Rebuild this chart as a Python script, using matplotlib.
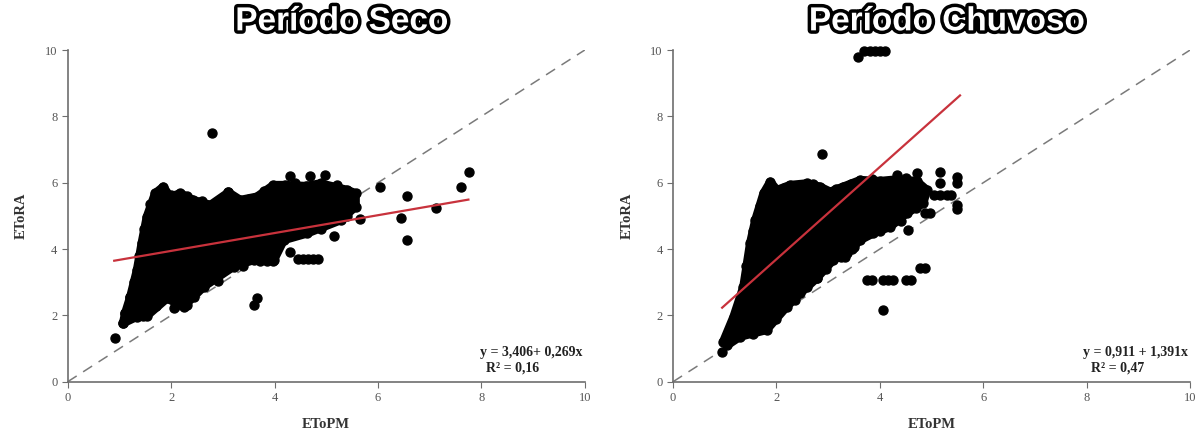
''' ETo comparison: EToRA vs EToPM for dry and rainy periods, with
    1:1 line and linear fit.
'''
import numpy as np
import matplotlib
matplotlib.use('Agg')
import matplotlib.pyplot as plt
import matplotlib.patheffects as pe

# ---- dry period (Período Seco) ----
# outline of the dense point cloud (EToPM, EToRA)
seco_cloud_x = [1.07, 1.11, 1.21, 1.34, 1.43, 1.53, 1.69, 1.85, 1.98, 2.18, 2.43,
                2.76, 3.11, 3.34, 3.66, 3.98, 4.21, 4.60, 4.89, 5.41, 5.57, 5.57,
                5.28, 4.63, 4.18, 3.99, 3.60, 3.21, 2.63, 2.24, 1.92, 1.53, 1.34]
seco_cloud_y = [1.76, 2.06, 2.56, 3.37, 4.17, 4.97, 5.68, 5.88, 5.58, 5.68, 5.48,
                5.33, 5.71, 5.48, 5.58, 5.93, 5.93, 5.90, 5.98, 5.78, 5.68, 5.28,
                4.87, 4.47, 4.27, 3.67, 3.67, 3.47, 2.86, 2.26, 2.51, 1.98, 1.96]
# scattered points outside / on the rim of the dense cloud
seco_pts_x = [0.92, 1.07, 1.11, 1.21, 2.79, 3.11, 3.66, 3.60, 7.76, 7.60, 7.12,
              6.56, 6.56, 6.44, 6.04, 5.65, 5.15, 4.45, 4.55, 4.65, 4.75, 4.85,
              4.29, 4.68, 4.97, 3.72, 3.85, 3.98, 2.30, 2.10, 1.45,
              2.00, 2.30, 2.60, 2.95, 3.50, 3.80, 4.40, 5.20, 1.28, 1.38, 1.48,
              1.60, 1.70, 2.05, 2.45, 2.90, 3.40, 4.30, 4.90, 5.40]
seco_pts_y = [1.31, 1.76, 2.06, 2.56, 7.50, 5.71, 2.51, 2.31, 6.33, 5.88, 5.25,
              5.60, 4.27, 4.93, 5.88, 4.90, 4.39, 3.69, 3.69, 3.69, 3.69, 3.69,
              6.20, 6.20, 6.23, 3.63, 3.63, 3.63, 2.30, 2.30, 1.98,
              5.62, 5.60, 5.45, 5.45, 5.50, 5.75, 6.00, 5.92, 3.00, 3.80, 4.60,
              5.35, 2.28, 2.22, 2.55, 3.05, 3.50, 3.92, 4.60, 5.00]
seco_a, seco_b = 3.406, 0.269
seco_fit_x = [0.9, 7.75]

# ---- rainy period (Período Chuvoso) ----
chuva_cloud_x = [0.97, 1.17, 1.36, 1.49, 1.59, 1.75, 1.88, 2.01, 2.26, 2.59, 2.84,
                 3.04, 3.29, 3.62, 4.00, 4.33, 4.71, 4.91, 4.84, 4.52, 4.20, 3.87,
                 3.62, 3.36, 3.10, 2.78, 2.46, 2.20, 1.81, 1.30, 1.05]
chuva_cloud_y = [1.21, 1.96, 2.86, 4.17, 4.87, 5.68, 6.03, 5.78, 5.93, 5.98, 5.88,
                 5.73, 5.88, 6.08, 6.05, 6.10, 6.05, 5.78, 5.38, 5.08, 4.67, 4.47,
                 4.27, 3.87, 3.67, 3.12, 2.66, 2.26, 1.56, 1.36, 1.10]
chuva_pts_x = [0.94, 2.88, 3.58, 3.70, 3.80, 3.90, 4.00, 4.10, 3.75, 3.85, 4.06,
               4.16, 4.26, 4.50, 4.60, 4.78, 4.88, 4.06, 5.16, 5.49, 5.49, 4.71,
               4.33, 5.16, 5.16, 5.29, 5.49, 5.49, 4.97, 4.87, 4.55, 3.62, 3.46,
               3.33, 2.78, 5.05, 5.38,
               2.15, 2.45, 2.70, 3.15, 3.45, 3.85, 4.50, 1.55, 2.00, 2.35, 2.60,
               2.95, 3.25, 3.50, 4.00, 4.40, 4.70, 1.42, 1.55, 1.68]
chuva_pts_y = [0.90, 6.86, 9.80, 9.98, 9.98, 9.98, 9.98, 9.98, 3.07, 3.07, 3.07,
               3.07, 3.07, 3.07, 3.07, 3.44, 3.44, 2.16, 6.33, 6.18, 6.00, 6.28,
               6.23, 5.98, 5.63, 5.63, 5.33, 5.20, 5.08, 5.08, 4.57, 4.29, 3.99,
               3.77, 3.12, 5.63, 5.63,
               5.85, 5.90, 5.95, 5.80, 5.95, 6.10, 6.15, 1.45, 1.90, 2.45, 2.85,
               3.40, 3.75, 4.05, 4.55, 4.85, 5.25, 3.50, 4.55, 5.30]
chuva_a, chuva_b = 0.911, 1.391
chuva_fit_x = [0.95, 5.55]

panels = [
    ('Período Seco', seco_cloud_x, seco_cloud_y, seco_pts_x, seco_pts_y,
     seco_a, seco_b, seco_fit_x, 'y = 3,406+ 0,269x', 'R² = 0,16'),
    ('Período Chuvoso', chuva_cloud_x, chuva_cloud_y, chuva_pts_x, chuva_pts_y,
     chuva_a, chuva_b, chuva_fit_x, 'y = 0,911 + 1,391x', 'R² = 0,47'),
]

serif = ['Liberation Serif', 'DejaVu Serif']
fig = plt.figure(figsize=(11.98, 4.37), dpi=100)
lefts = [0.0565, 0.5618]

for left, (title, cx, cy, px, py, a, b, fx, eq, r2) in zip(lefts, panels):
    ax = fig.add_axes([left, 0.1265, 0.4316, 0.759])
    ax.set_xlim(0, 10)
    ax.set_ylim(0, 10)
    # 1:1 line
    ax.plot([0, 10], [0, 10], color='#7a7a7a', lw=1.1, ls=(0, (7, 5)), zorder=1)
    # dense cloud, thick round edge to mimic the dot radius
    ax.fill(cx, cy, facecolor='black', edgecolor='black', lw=6.0,
            joinstyle='round', zorder=2)
    ax.scatter(cx, cy, s=42, color='black', zorder=2)
    ax.scatter(px, py, s=42, color='black', zorder=2, clip_on=False)
    # linear fit
    fx = np.array(fx)
    ax.plot(fx, a + b * fx, color='#c8323c', lw=1.6, zorder=3)

    for side in ['top', 'right']:
        ax.spines[side].set_visible(False)
    for side in ['left', 'bottom']:
        ax.spines[side].set_color('#6e6e6e')
        ax.spines[side].set_linewidth(1.2)
    ax.set_xticks(range(0, 11, 2))
    ax.set_yticks(range(0, 11, 2))
    ax.tick_params(direction='out', length=4, color='#6e6e6e', labelcolor='#555555',
                   labelsize=9)
    for lab in ax.get_xticklabels() + ax.get_yticklabels():
        lab.set_family(serif)
    ax.set_xlabel('EToPM', family=serif, fontweight='bold', fontsize=10.5,
                  color='#333333', labelpad=10)
    ax.set_ylabel('EToRA', family=serif, fontweight='bold', fontsize=10.5,
                  color='#333333', labelpad=12)
    ax.text(9.95, 0.88, eq, ha='right', va='center', family=serif,
            fontweight='bold', fontsize=10, color='#222222')
    ax.text(8.6, 0.4, r2, ha='center', va='center', family=serif,
            fontweight='bold', fontsize=10, color='#222222')
    ax.text(0.53, 1.085, title, transform=ax.transAxes, ha='center', va='center',
            fontsize=24, fontweight='bold', color='white',
            family=['Liberation Sans', 'DejaVu Sans'],
            path_effects=[pe.withStroke(linewidth=5, foreground='black')])

fig.savefig('out.png', dpi=100)
